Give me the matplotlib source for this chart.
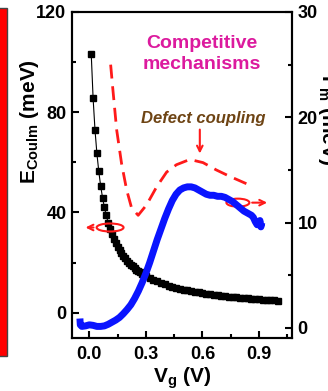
import matplotlib
matplotlib.use("Agg")
import matplotlib.pyplot as plt
from matplotlib.patches import Ellipse, Rectangle

# Coulomb energy (left axis, meV) vs gate voltage
vg_coul = [0.01, 0.02, 0.03, 0.04, 0.05, 0.06, 0.07, 0.08, 0.09, 0.10,
           0.11, 0.12, 0.13, 0.14, 0.15, 0.16, 0.17, 0.18, 0.19, 0.20,
           0.21, 0.22, 0.23, 0.24, 0.25, 0.26, 0.27, 0.28, 0.29, 0.30,
           0.32, 0.34, 0.36, 0.38, 0.40, 0.42, 0.44, 0.46, 0.48, 0.50,
           0.52, 0.54, 0.56, 0.58, 0.60, 0.62, 0.64, 0.66, 0.68, 0.70,
           0.72, 0.74, 0.76, 0.78, 0.80, 0.82, 0.84, 0.86, 0.88, 0.90,
           0.92, 0.94, 0.96, 0.98, 1.00]
e_coul = [103.3, 85.5, 72.9, 63.6, 56.4, 50.6, 45.9, 42.0, 38.8, 35.9,
          33.5, 31.4, 29.5, 27.9, 26.4, 25.1, 23.8, 22.8, 21.8, 20.8,
          19.9, 19.2, 18.5, 17.8, 17.2, 16.6, 16.1, 15.6, 15.1, 14.7,
          13.9, 13.1, 12.5, 11.9, 11.3, 10.8, 10.4, 10.0, 9.6, 9.2,
          8.9, 8.6, 8.3, 8.1, 7.8, 7.6, 7.3, 7.1, 6.9, 6.7,
          6.6, 6.4, 6.2, 6.1, 5.9, 5.8, 5.7, 5.5, 5.4, 5.3,
          5.2, 5.1, 5.0, 4.9, 4.8]

# blue curve (right axis)
vg_blue = [-0.05, -0.048, -0.04, -0.02, 0.0, 0.02, 0.04, 0.06, 0.08, 0.10,
           0.12, 0.14, 0.16, 0.18, 0.20, 0.22, 0.24, 0.26, 0.28, 0.30,
           0.32, 0.34, 0.36, 0.38, 0.40, 0.42, 0.44, 0.46, 0.48, 0.50,
           0.52, 0.54, 0.56, 0.58, 0.60, 0.62, 0.64, 0.66, 0.68, 0.70,
           0.72, 0.74, 0.76, 0.78, 0.80, 0.82, 0.84, 0.86, 0.87, 0.88,
           0.89, 0.90, 0.905, 0.91, 0.915]
g_blue = [0.9, 0.3, 0.15, 0.2, 0.3, 0.25, 0.15, 0.15, 0.2, 0.35,
          0.55, 0.75, 1.0, 1.35, 1.75, 2.2, 2.8, 3.5, 4.3, 5.2,
          6.2, 7.3, 8.4, 9.4, 10.4, 11.3, 12.1, 12.7, 13.1, 13.3,
          13.4, 13.4, 13.3, 13.1, 12.9, 12.7, 12.6, 12.6, 12.5, 12.5,
          12.4, 12.2, 12.0, 11.7, 11.4, 11.1, 10.9, 10.7, 10.5, 10.1,
          9.8, 9.9, 10.2, 9.6, 10.0]

# red dashed guide (right axis)
vg_guide = [0.113, 0.124, 0.145, 0.171, 0.198, 0.224, 0.259, 0.304, 0.357,
            0.41, 0.462, 0.533, 0.603, 0.674, 0.744, 0.833]
g_guide = [25.0, 22.8, 18.8, 15.6, 13.1, 11.4, 10.7, 11.7, 13.4,
           14.8, 15.5, 16.0, 15.7, 15.0, 14.4, 13.7]

plt.rcParams['font.family'] = 'Liberation Sans'
plt.rcParams['font.weight'] = 'bold'
plt.rcParams['mathtext.fontset'] = 'custom'
plt.rcParams['mathtext.rm'] = 'Liberation Sans:bold'
plt.rcParams['mathtext.bf'] = 'Liberation Sans:bold'
plt.rcParams['mathtext.it'] = 'Liberation Sans:bold:italic'

fig = plt.figure(figsize=(3.28, 3.91), dpi=100)

# strip of the neighbouring red panel on the left edge
fig.patches.append(Rectangle((-0.05, 35 / 391), 0.05 + 6.5 / 328, 348 / 391,
                             transform=fig.transFigure, facecolor='#ff0000',
                             edgecolor='#444444', lw=1.0))

ax = fig.add_axes([72 / 328, 53 / 391, 220 / 328, 326 / 391])
ax2 = ax.twinx()

ax.plot(vg_coul, e_coul, '-', color='black', lw=0.8, marker='s', ms=3.8,
        mec='black', mfc='black')

ax2.plot(vg_guide, g_guide, '--', color='#ff1a1a', lw=2.0, dashes=(5, 2.8))
ax2.plot(vg_blue, g_blue, '-', color='#0a14ff', lw=5.0,
         solid_capstyle='butt', solid_joinstyle='round')

ax.set_xlim(-0.092, 1.075)
ax.set_ylim(-10.1, 120)
ax2.set_ylim(-0.95, 30)

ax.set_xticks([0.0, 0.3, 0.6, 0.9])
ax.set_xticks([0.15, 0.45, 0.75, 1.05], minor=True)
ax.set_xticklabels(['0.0', '0.3', '0.6', '0.9'])
ax.set_yticks([0, 40, 80, 120])
ax.set_yticks([20, 60, 100], minor=True)
ax2.set_yticks([0, 10, 20, 30])
ax2.set_yticks([5, 15, 25], minor=True)

for a in (ax, ax2):
    for s in a.spines.values():
        s.set_linewidth(1.5)
    a.tick_params(which='major', direction='in', length=5, width=1.5,
                  labelsize=13, pad=4)
    a.tick_params(which='minor', direction='in', length=3, width=1.5)
ax.tick_params(axis='x', pad=6)
ax.tick_params(axis='y', which='both', right=False)

ax.set_xlabel(r'V$_\mathbf{g}$ (V)', fontsize=15, fontweight='bold')
ax.xaxis.set_label_coords(0.5, -0.085)
ax.set_ylabel(r'E$_\mathbf{Coulm}$ (meV)', fontsize=15, fontweight='bold')
ax.yaxis.set_label_coords(-0.14, 0.664)

# right label, mostly cut off by the figure edge as in the source panel
fig.text(0.963, 0.81, r'$\mathbf{\Gamma_m}$ (meV)', rotation=270,
         fontsize=15, fontweight='bold', ha='left', va='top')

# annotations
ax2.add_patch(Ellipse((0.11, 34), 0.143, 3.2, transform=ax.transData,
                      fill=False, edgecolor='#ff1a1a', lw=1.5))
ax2.annotate('', xy=(-0.035, 34), xytext=(0.037, 34),
             xycoords=ax.transData, textcoords=ax.transData,
             arrowprops=dict(arrowstyle='->', color='#ff1a1a', lw=1.5))
ax2.add_patch(Ellipse((0.788, 11.9), 0.122, 0.76, fill=False,
                      edgecolor='#ff1a1a', lw=1.5))
ax2.annotate('', xy=(0.958, 11.9), xytext=(0.849, 11.9),
             arrowprops=dict(arrowstyle='->', color='#ff1a1a', lw=1.5))

ax2.text(0.595, 26.0, 'Competitive\nmechanisms', color='#dc1a9e',
         fontsize=14, fontweight='bold', ha='center', va='center',
         linespacing=1.3)
ax2.text(0.605, 19.9, 'Defect coupling', color='#6e4414', fontsize=12,
         fontweight='bold', fontstyle='italic', ha='center', va='center')
ax2.annotate('', xy=(0.586, 16.3), xytext=(0.586, 19.1),
             arrowprops=dict(arrowstyle='->', color='#ff1a1a', lw=1.5))

fig.savefig('out.png', dpi=100)
